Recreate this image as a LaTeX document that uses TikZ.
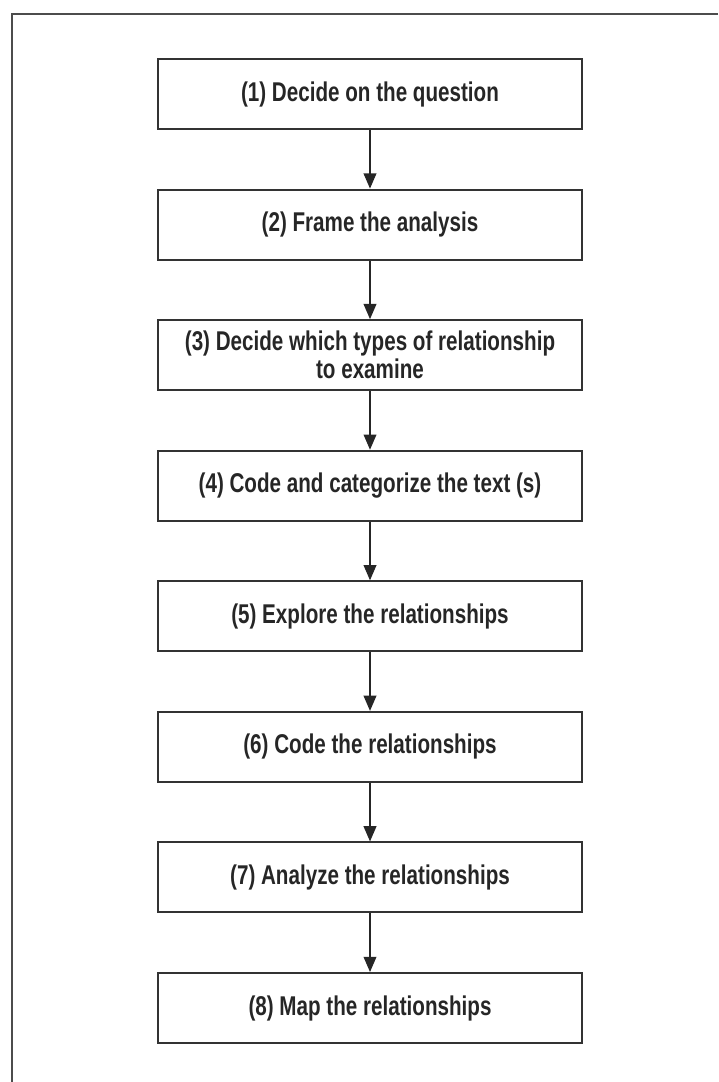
\documentclass[tikz,border=0pt]{standalone}
\usepackage{fontspec}
\setmainfont{Liberation Sans}[FakeStretch=0.76]
\usetikzlibrary{arrows.meta}
\begin{document}
\begin{tikzpicture}[x=0.025cm, y=-0.025cm, font=\bfseries\fontsize{19.3}{20}\selectfont]
    \tikzset{stepbox/.style={draw=black!80, line width=1.4pt, minimum width=10.6cm, minimum height=1.75cm, align=center, text=black!85, inner sep=2pt},
      arr/.style={draw=black!85, line width=0.9pt, -{Triangle[length=0.38cm, width=0.32cm]}}}
    \useasboundingbox (0,0) rectangle (718,1082);
    \draw[black!70, line width=1.6pt] (718,14) -- (12,14) -- (12,1082);
    \foreach \i/\t in {1/{(1) Decide on the question},
                       2/{(2) Frame the analysis},
                       3/{(3) Decide which types of relationship\\to examine},
                       4/{(4) Code and categorize the text (s)},
                       5/{(5) Explore the relationships},
                       6/{(6) Code the relationships},
                       7/{(7) Analyze the relationships},
                       8/{(8) Map the relationships}} {
      \node[stepbox] (s\i) at (370, {94+130.57*(\i-1)}) {\t};
    }
    \foreach \i [evaluate=\i as \j using int(\i+1)] in {1,...,7} {
      \draw[arr] (s\i) -- (s\j);
    }
  \end{tikzpicture}
\end{document}
